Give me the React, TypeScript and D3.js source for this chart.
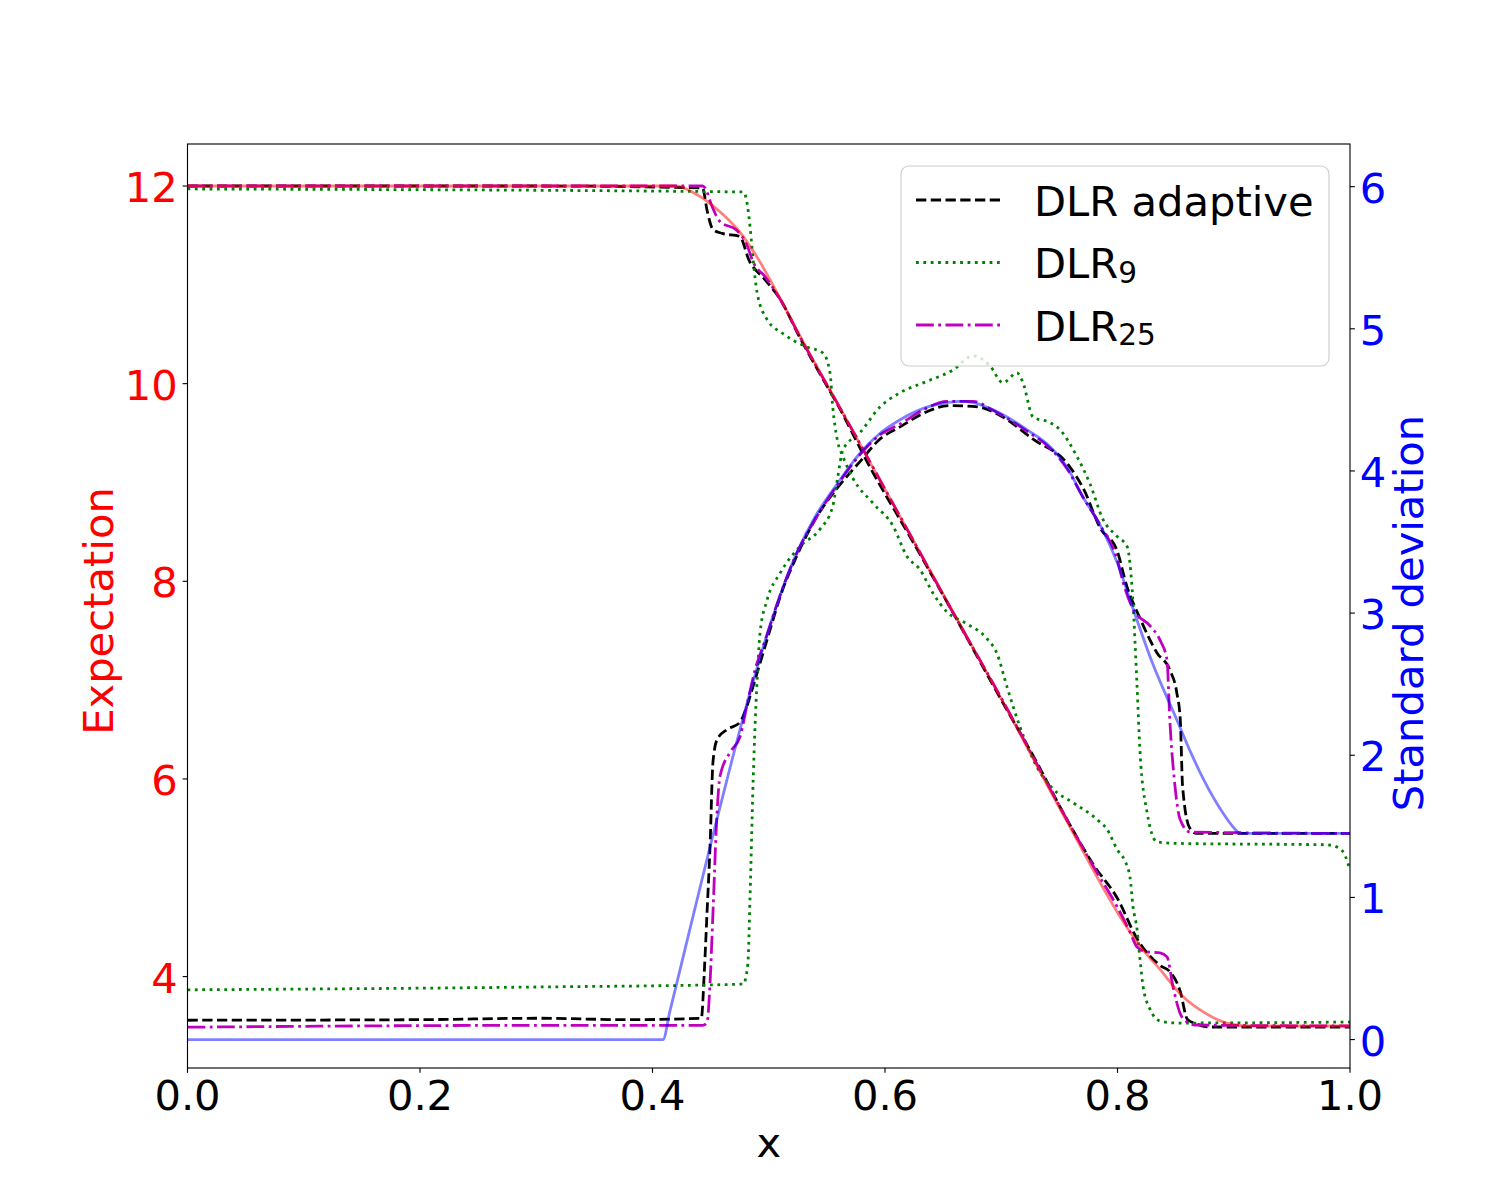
import React from "react";
import * as d3 from "d3";

// reference solution (solid, translucent)
const refMeanX = [0, 0.42, 0.44, 0.457, 0.474, 0.492, 0.509, 0.527, 0.561, 0.624, 0.7, 0.756, 0.808, 0.822, 0.836, 0.856, 0.877, 0.894, 0.914, 1.0];
const refMean = [12, 12, 11.9, 11.75, 11.55, 11.24, 10.88, 10.48, 9.76, 8.42, 6.81, 5.58, 4.5, 4.27, 4.08, 3.8, 3.62, 3.53, 3.5, 3.5];
const refStdX = [0, 0.409, 0.415, 0.487, 0.497, 0.51, 0.524, 0.54, 0.559, 0.579, 0.595, 0.613, 0.633, 0.653, 0.665, 0.676, 0.69, 0.705, 0.722, 0.742, 0.757, 0.77, 0.785, 0.8, 0.813, 0.83, 0.851, 0.863, 0.874, 0.891, 0.899, 0.906, 1.0];
const refStd = [0, 0, 0.2, 2.53, 2.81, 3.13, 3.42, 3.68, 3.91, 4.13, 4.26, 4.36, 4.44, 4.48, 4.49, 4.48, 4.44, 4.38, 4.29, 4.17, 4.02, 3.82, 3.62, 3.35, 3.04, 2.65, 2.25, 2.02, 1.83, 1.59, 1.5, 1.45, 1.45];

// DLR adaptive
const adaptMeanX = [0, 0.3, 0.443, 0.447, 0.452, 0.46, 0.475, 0.483, 0.497, 0.51, 0.527, 0.545, 0.561, 0.585, 0.624, 0.66, 0.7, 0.73, 0.756, 0.78, 0.8, 0.817, 0.837, 0.845, 0.854, 0.86, 0.868, 0.88, 1.0];
const adaptMean = [12, 12, 11.98, 11.75, 11.56, 11.52, 11.49, 11.25, 11.05, 10.85, 10.46, 10.08, 9.75, 9.2, 8.4, 7.65, 6.8, 6.18, 5.6, 5.12, 4.79, 4.38, 4.11, 4.05, 3.85, 3.57, 3.52, 3.49, 3.49];
const adaptStdX = [0, 0.2, 0.3, 0.38, 0.442, 0.4447, 0.4469, 0.4495, 0.452, 0.4555, 0.464, 0.475, 0.481, 0.4856, 0.501, 0.51, 0.524, 0.54, 0.559, 0.58, 0.595, 0.613, 0.637, 0.655, 0.68, 0.699, 0.728, 0.757, 0.771, 0.785, 0.7996, 0.808, 0.819, 0.834, 0.845, 0.851, 0.854, 0.856, 0.862, 0.868, 1.0];
const adaptStd = [0.136, 0.14, 0.15, 0.14, 0.15, 0.5, 0.89, 1.36, 1.95, 2.11, 2.18, 2.23, 2.34, 2.46, 2.88, 3.12, 3.4, 3.66, 3.88, 4.08, 4.22, 4.31, 4.42, 4.46, 4.45, 4.39, 4.22, 4.05, 3.87, 3.6, 3.44, 3.19, 2.97, 2.72, 2.6, 2.44, 2.25, 1.78, 1.49, 1.45, 1.45];

// DLR 9
const dlr9MeanX = [0, 0.478, 0.481, 0.4839, 0.4866, 0.49, 0.4985, 0.5118, 0.533, 0.5467, 0.5527, 0.555, 0.559, 0.5639, 0.5725, 0.5897, 0.6069, 0.619, 0.63, 0.6413, 0.6533, 0.6705, 0.6877, 0.6963, 0.705, 0.716, 0.7307, 0.7445, 0.7617, 0.7824, 0.791, 0.8, 0.806, 0.8108, 0.8133, 0.8168, 0.8194, 0.822, 0.828, 0.8366, 0.8512, 1.0];
const dlr9Mean = [11.97, 11.94, 11.85, 11.59, 11.25, 10.92, 10.65, 10.51, 10.37, 10.31, 10.11, 9.77, 9.43, 9.26, 9.04, 8.79, 8.56, 8.25, 8.12, 7.88, 7.69, 7.57, 7.42, 7.27, 6.93, 6.53, 6.12, 5.9, 5.76, 5.59, 5.49, 5.28, 5.18, 5.0, 4.71, 4.48, 4.17, 3.9, 3.67, 3.55, 3.53, 3.54];
const dlr9StdX = [0, 0.303, 0.478, 0.482, 0.4839, 0.4866, 0.49, 0.4925, 0.4985, 0.5097, 0.527, 0.544, 0.555, 0.559, 0.5639, 0.5785, 0.5957, 0.6129, 0.636, 0.6585, 0.6757, 0.6903, 0.7015, 0.7135, 0.7187, 0.7273, 0.7419, 0.7505, 0.7652, 0.7763, 0.7875, 0.7996, 0.8082, 0.8133, 0.8168, 0.8194, 0.8254, 0.834, 0.8512, 0.98, 0.99, 0.996, 1.0];
const dlr9Std = [0.35, 0.37, 0.39, 0.53, 1.0, 1.83, 2.53, 2.86, 3.09, 3.28, 3.47, 3.59, 3.75, 3.94, 4.15, 4.27, 4.45, 4.55, 4.63, 4.71, 4.81, 4.74, 4.62, 4.69, 4.62, 4.38, 4.34, 4.29, 4.1, 3.91, 3.66, 3.54, 3.47, 3.08, 2.49, 2.02, 1.6, 1.39, 1.38, 1.37, 1.35, 1.29, 1.19];

// DLR 25
const dlr25MeanX = [0, 0.443, 0.4452, 0.451, 0.458, 0.4727, 0.4813, 0.4866, 0.497, 0.509, 0.527, 0.561, 0.624, 0.66, 0.7, 0.756, 0.78, 0.8, 0.8108, 0.8168, 0.8254, 0.8366, 0.8426, 0.8477, 0.8538, 0.8598, 0.8667, 1.0];
const dlr25Mean = [12, 12, 11.98, 11.8, 11.64, 11.55, 11.4, 11.23, 11.08, 10.87, 10.47, 9.76, 8.42, 7.65, 6.82, 5.6, 5.1, 4.7, 4.45, 4.3, 4.25, 4.24, 4.2, 3.9, 3.63, 3.54, 3.51, 3.5];
const dlr25StdX = [0, 0.3, 0.443, 0.4469, 0.4495, 0.452, 0.4555, 0.458, 0.4667, 0.4753, 0.4822, 0.4882, 0.497, 0.51, 0.524, 0.54, 0.559, 0.579, 0.595, 0.613, 0.633, 0.653, 0.676, 0.69, 0.705, 0.722, 0.742, 0.757, 0.77, 0.785, 0.8, 0.8047, 0.8133, 0.828, 0.8366, 0.8426, 0.845, 0.8495, 0.8538, 0.8624, 1.0];
const dlr25Std = [0.087, 0.1, 0.1, 0.12, 0.4, 0.89, 1.59, 1.85, 2.02, 2.13, 2.39, 2.6, 2.81, 3.13, 3.42, 3.66, 3.9, 4.12, 4.25, 4.33, 4.43, 4.49, 4.49, 4.44, 4.37, 4.28, 4.16, 4.01, 3.82, 3.62, 3.37, 3.22, 3.03, 2.91, 2.81, 2.67, 2.25, 1.78, 1.55, 1.46, 1.45];

const xTicks = [0, 0.2, 0.4, 0.6, 0.8, 1.0];
const leftTicks = [4, 6, 8, 10, 12];
const rightTicks = [0, 1, 2, 3, 4, 5, 6];
const legendBase = ["DLR adaptive", "DLR", "DLR"];
const legendSub = ["", "9", "25"];

const W = 1500;
const H = 1200;
const box = { left: 187.5, right: 1350, top: 144, bottom: 1068 };
const FONT = "DejaVu Sans, Verdana, sans-serif";
const FS = 41.67;
const LW = 2.78;
const TICK = 4.86;

const styles = [
  { color: "#000000", dash: "10.3 4.45" },
  { color: "#008000", dash: "2.78 4.58" },
  { color: "#bf00bf", dash: "17.8 4.45 2.78 4.45" },
];

const zip = (xs: number[], ys: number[]) => xs.map((x, i) => [x, ys[i]] as [number, number]);

export default function App() {
  const x = d3.scaleLinear().domain([0, 1]).range([box.left, box.right]);
  const yL = d3.scaleLinear().domain([3.075, 12.425]).range([box.bottom, box.top]);
  const yR = d3.scaleLinear().domain([-0.2, 6.3]).range([box.bottom, box.top]);

  const lineL = d3.line<[number, number]>().x(d => x(d[0])).y(d => yL(d[1])).curve(d3.curveMonotoneX);
  const lineR = d3.line<[number, number]>().x(d => x(d[0])).y(d => yR(d[1])).curve(d3.curveMonotoneX);

  const models = [
    { mean: zip(adaptMeanX, adaptMean), std: zip(adaptStdX, adaptStd) },
    { mean: zip(dlr9MeanX, dlr9Mean), std: zip(dlr9StdX, dlr9Std) },
    { mean: zip(dlr25MeanX, dlr25Mean), std: zip(dlr25StdX, dlr25Std) },
  ];

  const legX = 901, legY = 166, legW = 428, legH = 200;
  const rowY = [200, 262.5, 325];

  return (
    <svg width={W} height={H} style={{ position: "absolute", left: 0, top: 0, background: "#fff" }} fontFamily={FONT}>
      <defs>
        <clipPath id="plotClip">
          <rect x={box.left} y={box.top} width={box.right - box.left} height={box.bottom - box.top} />
        </clipPath>
      </defs>
      <rect x={0} y={0} width={W} height={H} fill="#fff" />

      <g clipPath="url(#plotClip)" fill="none" strokeWidth={LW}>
        {models.map((m, i) => (
          <g key={i} stroke={styles[i].color} strokeDasharray={styles[i].dash}>
            <path d={lineL(m.mean) || ""} />
            <path d={lineR(m.std) || ""} />
          </g>
        ))}
        <path d={lineL(zip(refMeanX, refMean)) || ""} stroke="#ff0000" strokeOpacity={0.5} />
        <path d={lineR(zip(refStdX, refStd)) || ""} stroke="#0000ff" strokeOpacity={0.5} />
      </g>

      {/* frame */}
      <rect x={box.left} y={box.top} width={box.right - box.left} height={box.bottom - box.top}
        fill="none" stroke="#000" strokeWidth={1.11} />

      {/* x axis */}
      {xTicks.map(t => (
        <g key={t}>
          <line x1={x(t)} x2={x(t)} y1={box.bottom} y2={box.bottom + TICK} stroke="#000" strokeWidth={1.11} />
          <text x={x(t)} y={1110} textAnchor="middle" fontSize={FS} fill="#000">{t.toFixed(1)}</text>
        </g>
      ))}
      <text x={(box.left + box.right) / 2} y={1157} textAnchor="middle" fontSize={FS} fill="#000">x</text>

      {/* left axis */}
      {leftTicks.map(t => (
        <g key={t}>
          <line x1={box.left - TICK} x2={box.left} y1={yL(t)} y2={yL(t)} stroke="#000" strokeWidth={1.11} />
          <text x={box.left - 2 * TICK} y={yL(t) + 16} textAnchor="end" fontSize={FS} fill="#ff0000">{t}</text>
        </g>
      ))}
      <text transform={`translate(113.3, 611) rotate(-90)`} textAnchor="middle" fontSize={FS} fill="#ff0000">Expectation</text>

      {/* right axis */}
      {rightTicks.map(t => (
        <g key={t}>
          <line x1={box.right} x2={box.right + TICK} y1={yR(t)} y2={yR(t)} stroke="#000" strokeWidth={1.11} />
          <text x={box.right + 2 * TICK} y={yR(t) + 16} textAnchor="start" fontSize={FS} fill="#0000ff">{t}</text>
        </g>
      ))}
      <text transform={`translate(1423.3, 613) rotate(-90)`} textAnchor="middle" fontSize={FS} fill="#0000ff">Standard deviation</text>

      {/* legend */}
      <rect x={legX} y={legY} width={legW} height={legH} rx={8} ry={8}
        fill="#fff" fillOpacity={0.8} stroke="#cccccc" strokeWidth={1.11} />
      {legendBase.map((label, i) => (
        <g key={i}>
          <line x1={916} x2={1000} y1={rowY[i]} y2={rowY[i]} stroke={styles[i].color}
            strokeWidth={LW} strokeDasharray={styles[i].dash} />
          <text x={1034} y={rowY[i] + 15.5} fontSize={FS} fill="#000">
            {label}
            {legendSub[i] && <tspan fontSize={29.5} dy={4.5}>{legendSub[i]}</tspan>}
          </text>
        </g>
      ))}
    </svg>
  );
}
